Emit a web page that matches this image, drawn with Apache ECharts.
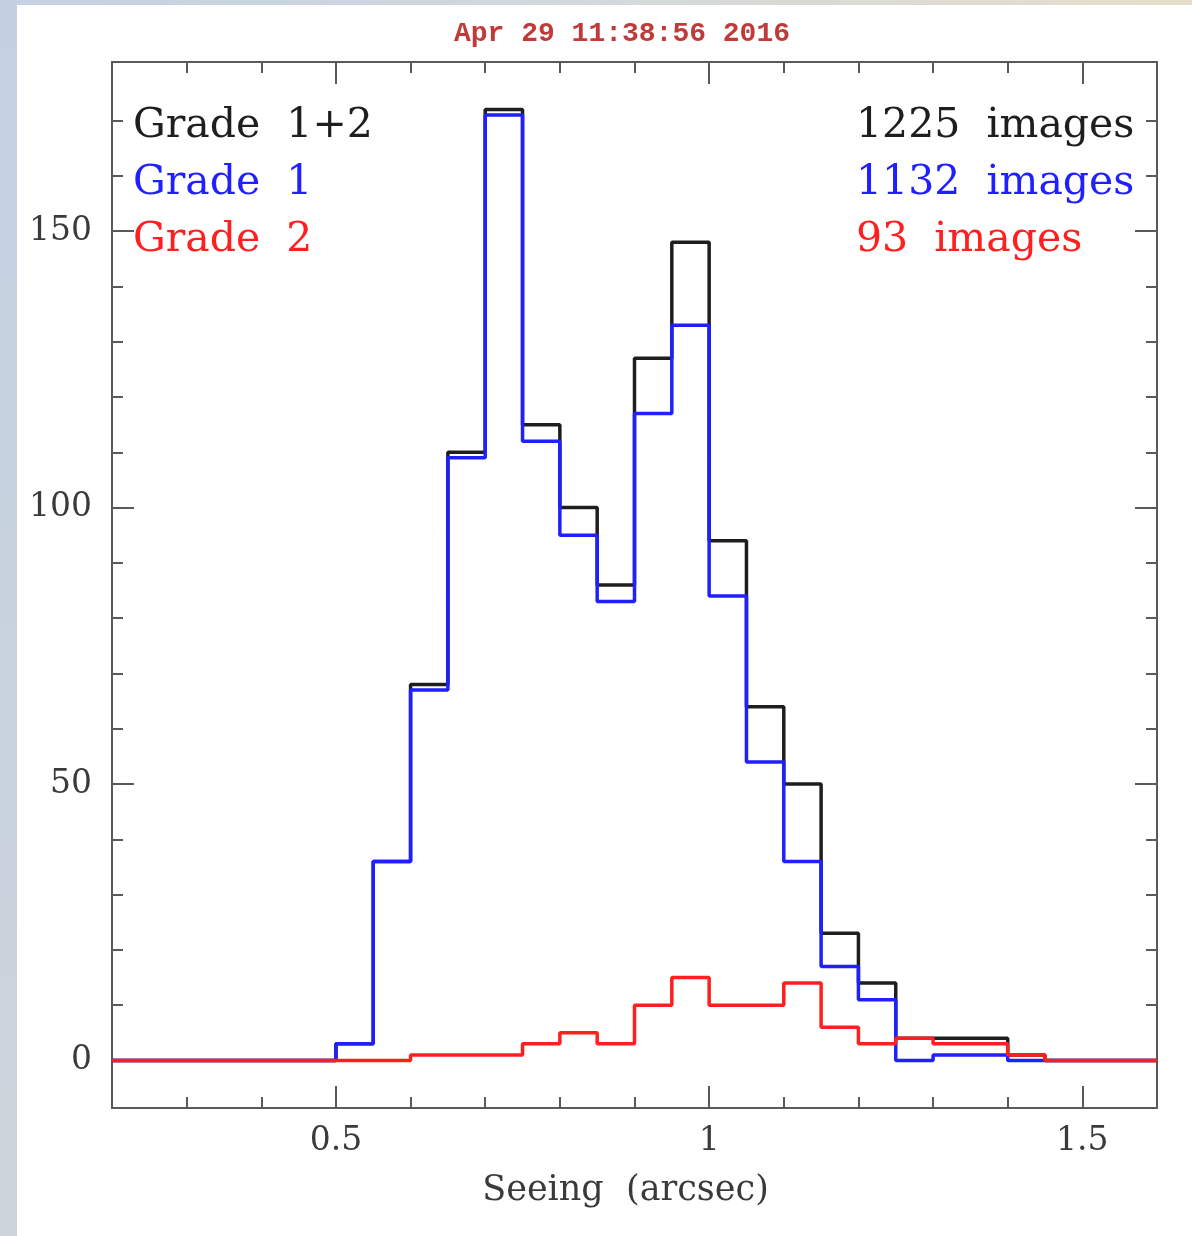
<!DOCTYPE html>
<html>
<head>
<meta charset="utf-8">
<title>Seeing histogram</title>
<script src="https://cdn.jsdelivr.net/npm/echarts@6/dist/echarts.min.js"></script>
<style>
  html, body { margin: 0; padding: 0; background: #ffffff; }
  #chart { width: 1192px; height: 1236px; }
</style>
</head>
<body>
<div id="chart"></div>
<script>
// Bin edges (arcsec), 0.05 wide
const binEdges = [0.20, 0.25, 0.30, 0.35, 0.40, 0.45, 0.50, 0.55, 0.60, 0.65,
                  0.70, 0.75, 0.80, 0.85, 0.90, 0.95, 1.00, 1.05, 1.10, 1.15,
                  1.20, 1.25, 1.30, 1.35, 1.40, 1.45, 1.50, 1.55, 1.60];

// Counts per bin (one fewer than edges)
const grade12 = [0, 0, 0, 0, 0, 0, 3, 36, 68, 110, 172, 115, 100, 86, 127, 148,
                 94, 64, 50, 23, 14, 4, 4, 4, 1, 0, 0, 0];
const grade1  = [0, 0, 0, 0, 0, 0, 3, 36, 67, 109, 171, 112, 95, 83, 117, 133,
                 84, 54, 36, 17, 11, 0, 1, 1, 0, 0, 0, 0];
const grade2  = [0, 0, 0, 0, 0, 0, 0, 0, 1, 1, 1, 3, 5, 3, 10, 15,
                 10, 10, 14, 6, 3, 4, 3, 3, 1, 0, 0, 0];

// Tick positions
const xMajorTicks = [0.5, 1, 1.5];
const xMinorTicks = [0.3, 0.4, 0.6, 0.7, 0.8, 0.9, 1.1, 1.2, 1.3, 1.4];
const yMajorTicks = [0, 50, 100, 150];
const yMinorTicks = [10, 20, 30, 40, 60, 70, 80, 90, 110, 120, 130, 140, 160, 170];

const titleText = 'Apr 29 11:38:56 2016';
const legendRows = [
  { name: 'Grade  1+2', count: '1225  images', color: '#1e1e1e' },
  { name: 'Grade  1',   count: '1132  images', color: '#1f1fff' },
  { name: 'Grade  2',   count: '93  images',   color: '#ff1f1f' }
];

const X_MIN = 0.2, X_MAX = 1.6;
const Y_MIN = -8.6, Y_MAX = 180.6;
const frameColor = '#5a5a5a';
const serif = '"DejaVu Serif", "Liberation Serif", serif';

// Histogram outline: each bin's left edge holds its count; the final edge closes the last bin
function stepPoints(counts) {
  return binEdges.map((e, i) => [e, counts[Math.min(i, counts.length - 1)]]);
}

function xAxisDef(position, ticks, len, withLine, withLabels) {
  return {
    type: 'value', position: position, min: X_MIN, max: X_MAX,
    axisLine: { show: withLine, onZero: false, lineStyle: { color: frameColor, width: 2 } },
    axisTick: { show: true, inside: true, length: len, customValues: ticks,
                lineStyle: { color: frameColor, width: 2 } },
    axisLabel: withLabels ? {
      show: true, customValues: ticks, margin: 17,
      fontFamily: serif, fontSize: 33, color: '#3a3a3a',
      formatter: v => String(v)
    } : { show: false },
    splitLine: { show: false },
    name: withLabels ? 'Seeing  (arcsec)' : '',
    nameLocation: 'middle', nameGap: 65,
    nameTextStyle: { fontFamily: serif, fontSize: 35, color: '#3a3a3a', padding: [0, 18, 0, 0] }
  };
}

function yAxisDef(position, ticks, len, withLine, withLabels) {
  return {
    type: 'value', position: position, min: Y_MIN, max: Y_MAX,
    axisLine: { show: withLine, onZero: false, lineStyle: { color: frameColor, width: 2 } },
    axisTick: { show: true, inside: true, length: len, customValues: ticks,
                lineStyle: { color: frameColor, width: 2 } },
    axisLabel: withLabels ? {
      show: true, customValues: ticks, margin: 20,
      fontFamily: serif, fontSize: 33, color: '#3a3a3a'
    } : { show: false },
    splitLine: { show: false }
  };
}

function histSeries(name, counts, color) {
  return {
    name: name, type: 'line', step: 'end', xAxisIndex: 0, yAxisIndex: 0,
    data: stepPoints(counts), showSymbol: false, symbol: 'none',
    lineStyle: { color: color, width: 3.5 }, silent: true, animation: false
  };
}

const graphics = [
  // outer frame strips
  { type: 'rect', shape: { x: 0, y: 0, width: 1192, height: 5 },
    style: { fill: new echarts.graphic.LinearGradient(0, 0, 1, 0, [
      { offset: 0, color: '#c3d1e2' }, { offset: 0.5, color: '#d3d9dc' }, { offset: 1, color: '#e6dec9' }
    ]) } },
  { type: 'rect', shape: { x: 0, y: 0, width: 17, height: 1236 },
    style: { fill: new echarts.graphic.LinearGradient(0, 0, 0, 1, [
      { offset: 0, color: '#c3d1e2' }, { offset: 1, color: '#cdd4db' }
    ]) } },
  // time stamp
  { type: 'text', x: 622, y: 34,
    style: { text: titleText, fill: '#c03a3a', font: 'bold 28px "Liberation Mono", monospace',
             align: 'center', verticalAlign: 'middle' } }
];

// Legend: names on the left, image counts in a left-aligned column on the right
legendRows.forEach((row, i) => {
  const y = 126 + i * 57;
  graphics.push({ type: 'text', x: 133, y: y,
    style: { text: row.name, fill: row.color, font: '41px ' + serif,
             align: 'left', verticalAlign: 'middle' } });
  graphics.push({ type: 'text', x: 856, y: y,
    style: { text: row.count, fill: row.color, font: '41px ' + serif,
             align: 'left', verticalAlign: 'middle' } });
});

const chart = echarts.init(document.getElementById('chart'), null, { renderer: 'canvas' });
chart.setOption({
  backgroundColor: '#ffffff',
  animation: false,
  grid: { left: 112, right: 35, top: 62, bottom: 128, containLabel: false },
  xAxis: [
    xAxisDef('bottom', xMinorTicks, 11, true, false),
    xAxisDef('bottom', xMajorTicks, 22, false, true),
    xAxisDef('top', xMinorTicks, 11, true, false),
    xAxisDef('top', xMajorTicks, 22, false, false)
  ],
  yAxis: [
    yAxisDef('left', yMinorTicks, 11, true, false),
    yAxisDef('left', yMajorTicks, 22, false, true),
    yAxisDef('right', yMinorTicks, 11, true, false),
    yAxisDef('right', yMajorTicks, 22, false, false)
  ],
  series: [
    histSeries('Grade 1+2', grade12, '#1e1e1e'),
    histSeries('Grade 1', grade1, '#1f1fff'),
    histSeries('Grade 2', grade2, '#ff1f1f')
  ],
  graphic: graphics
});
</script>
</body>
</html>
